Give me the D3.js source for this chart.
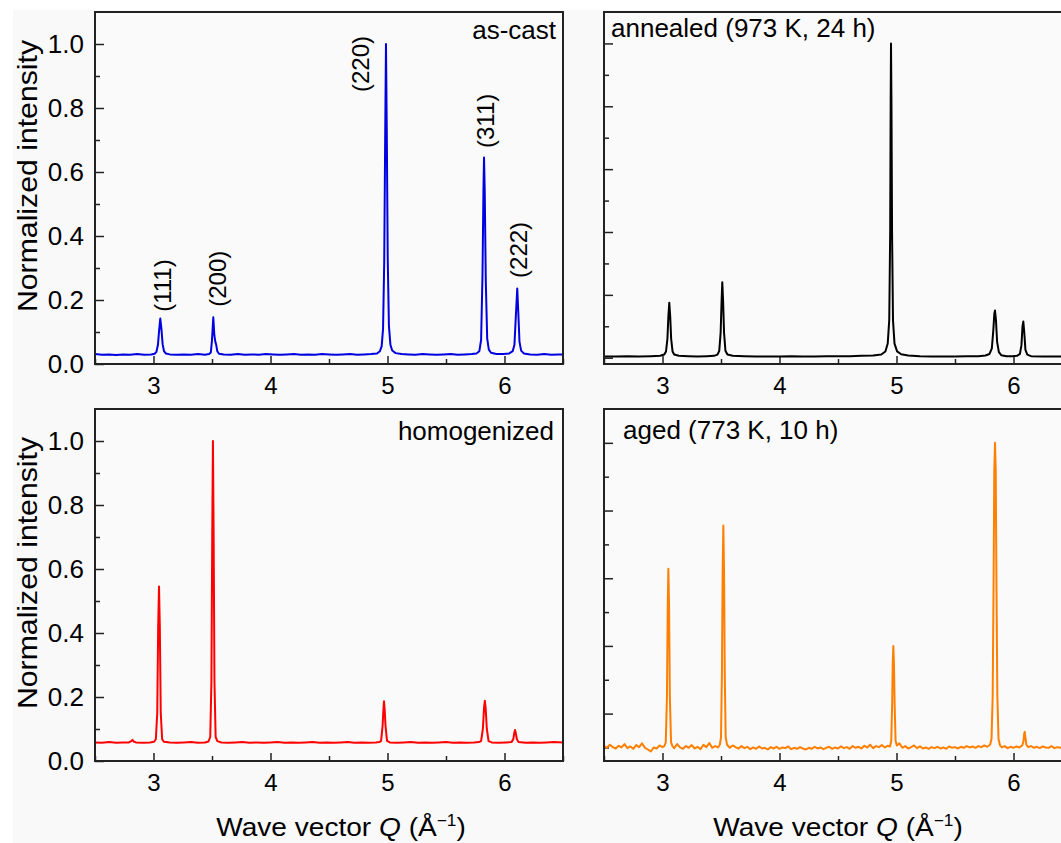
<!DOCTYPE html>
<html>
<head>
<meta charset="utf-8">
<script src="https://cdnjs.cloudflare.com/ajax/libs/d3/7.8.5/d3.min.js"></script>
<style>
body { margin: 0; background: #fff; }
text { font-family: "Liberation Sans", Arial, sans-serif; fill: #000; }
</style>
</head>
<body>
<svg width="1061" height="843"></svg>
<script>
// diffraction patterns, [Q, normalized intensity]
var asCast = [[2.50,0.031],[2.56,0.029],[2.62,0.030],[2.68,0.028],[2.74,0.030],[2.80,0.029],[2.86,0.031],[2.92,0.029],[2.98,0.030],
  [3.010,0.032],[3.025,0.038],[3.038,0.060],[3.048,0.105],[3.058,0.142],[3.068,0.108],[3.078,0.062],[3.090,0.040],[3.105,0.033],
  [3.14,0.030],[3.20,0.029],[3.26,0.030],[3.32,0.029],[3.38,0.031],[3.44,0.029],[3.475,0.031],
  [3.490,0.036],[3.500,0.075],[3.511,0.146],[3.520,0.090],[3.528,0.070],[3.536,0.060],[3.545,0.040],[3.56,0.032],
  [3.60,0.030],[3.66,0.029],[3.72,0.031],[3.78,0.029],[3.84,0.030],[3.90,0.029],[3.96,0.031],[4.02,0.030],[4.08,0.029],[4.14,0.030],
  [4.20,0.031],[4.26,0.029],[4.32,0.030],[4.38,0.029],[4.44,0.031],[4.50,0.030],[4.56,0.029],[4.62,0.030],[4.68,0.031],[4.74,0.029],
  [4.80,0.030],[4.86,0.031],[4.91,0.033],[4.935,0.040],[4.950,0.055],[4.962,0.110],[4.972,0.320],[4.980,0.700],[4.987,1.000],
  [4.994,0.720],[5.002,0.330],[5.012,0.120],[5.025,0.060],[5.040,0.042],[5.07,0.034],[5.12,0.031],[5.18,0.030],[5.24,0.029],
  [5.30,0.031],[5.36,0.030],[5.42,0.029],[5.48,0.030],[5.54,0.031],[5.60,0.029],[5.66,0.030],[5.72,0.031],[5.76,0.033],
  [5.785,0.040],[5.800,0.075],[5.812,0.280],[5.820,0.540],[5.825,0.645],[5.831,0.540],[5.840,0.260],[5.852,0.080],[5.866,0.045],
  [5.885,0.035],[5.93,0.031],[5.99,0.031],[6.04,0.033],[6.070,0.040],[6.085,0.060],[6.097,0.150],[6.109,0.236],[6.118,0.160],
  [6.128,0.070],[6.142,0.042],[6.165,0.033],[6.22,0.030],[6.28,0.029],[6.34,0.031],[6.40,0.029],[6.46,0.030],[6.50,0.030]];

var annealed = [[2.50,0.004],[2.60,0.004],[2.70,0.005],[2.80,0.004],[2.90,0.005],[2.98,0.006],
  [3.015,0.010],[3.030,0.020],[3.042,0.060],[3.050,0.130],[3.058,0.175],[3.066,0.130],[3.074,0.060],[3.086,0.020],[3.100,0.010],
  [3.14,0.006],[3.22,0.005],[3.30,0.004],[3.38,0.005],[3.44,0.006],
  [3.470,0.010],[3.485,0.022],[3.497,0.080],[3.505,0.180],[3.511,0.240],[3.518,0.180],[3.526,0.080],[3.538,0.022],[3.555,0.010],
  [3.60,0.006],[3.70,0.005],[3.80,0.004],[3.90,0.004],[4.00,0.004],[4.10,0.005],[4.20,0.004],[4.30,0.004],[4.40,0.005],
  [4.50,0.005],[4.60,0.005],[4.70,0.006],[4.80,0.007],[4.87,0.010],
  [4.905,0.020],[4.925,0.045],[4.938,0.120],[4.946,0.400],[4.950,0.800],[4.953,1.000],[4.957,0.800],[4.962,0.400],[4.970,0.120],
  [4.983,0.045],[5.005,0.020],[5.04,0.011],[5.10,0.007],[5.20,0.005],[5.30,0.004],[5.40,0.004],[5.50,0.004],[5.60,0.005],
  [5.70,0.005],[5.76,0.007],[5.795,0.012],[5.815,0.030],[5.828,0.090],[5.836,0.140],[5.842,0.150],[5.850,0.120],[5.860,0.050],
  [5.875,0.018],[5.895,0.008],[5.94,0.005],[5.99,0.005],[6.03,0.006],
  [6.055,0.012],[6.068,0.040],[6.077,0.100],[6.084,0.115],[6.092,0.080],[6.102,0.025],[6.118,0.010],
  [6.15,0.005],[6.25,0.004],[6.35,0.004],[6.45,0.004],[6.50,0.004]];

var homogenized = [[2.50,0.058],[2.56,0.057],[2.62,0.059],[2.68,0.057],[2.74,0.058],[2.79,0.058],[2.81,0.062],[2.82,0.066],
  [2.83,0.061],[2.85,0.058],[2.91,0.057],[2.97,0.058],
  [3.005,0.060],[3.020,0.068],[3.032,0.150],[3.040,0.420],[3.047,0.545],[3.054,0.420],[3.062,0.150],[3.074,0.068],[3.090,0.060],
  [3.14,0.058],[3.20,0.057],[3.26,0.058],[3.32,0.059],[3.38,0.057],[3.44,0.058],
  [3.470,0.061],[3.485,0.075],[3.495,0.250],[3.502,0.700],[3.508,1.000],[3.514,0.700],[3.521,0.250],[3.531,0.075],[3.546,0.062],
  [3.58,0.058],[3.64,0.057],[3.70,0.058],[3.76,0.059],[3.82,0.057],[3.88,0.058],[3.94,0.057],[4.00,0.058],[4.06,0.059],
  [4.12,0.057],[4.18,0.058],[4.24,0.057],[4.30,0.058],[4.36,0.059],[4.42,0.057],[4.48,0.058],[4.54,0.057],[4.60,0.058],
  [4.66,0.059],[4.72,0.057],[4.78,0.058],[4.84,0.057],[4.90,0.058],[4.93,0.059],
  [4.945,0.063],[4.958,0.110],[4.965,0.160],[4.970,0.187],[4.976,0.160],[4.983,0.110],[4.996,0.063],
  [5.02,0.058],[5.08,0.057],[5.14,0.058],[5.20,0.059],[5.26,0.057],[5.32,0.058],[5.38,0.057],[5.44,0.058],[5.50,0.059],
  [5.56,0.057],[5.62,0.058],[5.68,0.057],[5.74,0.058],[5.78,0.059],
  [5.800,0.062],[5.815,0.100],[5.825,0.165],[5.832,0.188],[5.839,0.165],[5.849,0.100],[5.864,0.062],
  [5.89,0.058],[5.95,0.057],[6.01,0.058],[6.06,0.059],
  [6.075,0.068],[6.085,0.090],[6.090,0.097],[6.096,0.088],[6.106,0.068],[6.12,0.059],
  [6.18,0.057],[6.24,0.058],[6.30,0.057],[6.36,0.058],[6.42,0.059],[6.50,0.058]];

var aged = [[2.500,0.104],[2.525,0.099],[2.550,0.108],[2.575,0.101],[2.600,0.097],[2.625,0.105],[2.650,0.100],[2.675,0.110],
  [2.700,0.098],[2.725,0.103],[2.750,0.096],[2.775,0.107],[2.800,0.101],[2.825,0.112],[2.850,0.099],[2.875,0.094],[2.900,0.088],
  [2.925,0.100],[2.950,0.097],[2.975,0.106],[3.000,0.101],[3.015,0.104],
  [3.028,0.115],[3.038,0.250],[3.045,0.520],[3.050,0.628],[3.056,0.520],[3.063,0.250],[3.073,0.115],[3.085,0.104],
  [3.100,0.098],[3.125,0.110],[3.150,0.100],[3.175,0.096],[3.200,0.104],[3.225,0.099],[3.250,0.107],[3.275,0.097],[3.300,0.102],
  [3.325,0.095],[3.350,0.108],[3.375,0.101],[3.400,0.113],[3.425,0.099],[3.450,0.104],[3.475,0.100],[3.490,0.108],
  [3.500,0.130],[3.508,0.320],[3.514,0.620],[3.520,0.756],[3.526,0.620],[3.532,0.320],[3.540,0.130],[3.552,0.108],
  [3.575,0.099],[3.600,0.106],[3.625,0.101],[3.650,0.097],[3.675,0.104],[3.700,0.098],[3.725,0.102],[3.750,0.095],[3.775,0.100],
  [3.800,0.096],[3.825,0.103],[3.850,0.097],[3.875,0.099],[3.900,0.094],[3.925,0.101],[3.950,0.097],[3.975,0.102],[4.000,0.096],
  [4.025,0.100],[4.050,0.098],[4.075,0.103],[4.100,0.095],[4.125,0.099],[4.150,0.096],[4.175,0.101],[4.200,0.097],[4.225,0.094],
  [4.250,0.099],[4.275,0.096],[4.300,0.102],[4.325,0.097],[4.350,0.100],[4.375,0.095],[4.400,0.099],[4.425,0.102],[4.450,0.096],
  [4.475,0.100],[4.500,0.097],[4.525,0.103],[4.550,0.098],[4.575,0.101],[4.600,0.096],[4.625,0.104],[4.650,0.099],[4.675,0.102],
  [4.700,0.097],[4.725,0.105],[4.750,0.100],[4.775,0.108],[4.800,0.098],[4.825,0.104],[4.850,0.101],[4.875,0.107],[4.900,0.100],
  [4.925,0.105],[4.945,0.103],
  [4.955,0.120],[4.963,0.230],[4.968,0.350],[4.973,0.400],[4.978,0.350],[4.984,0.230],[4.992,0.120],[5.003,0.106],
  [5.025,0.112],[5.050,0.099],[5.075,0.104],[5.100,0.097],[5.125,0.101],[5.150,0.106],[5.175,0.098],[5.200,0.103],[5.225,0.097],
  [5.250,0.100],[5.275,0.096],[5.300,0.101],[5.325,0.098],[5.350,0.102],[5.375,0.097],[5.400,0.100],[5.425,0.096],[5.450,0.103],
  [5.475,0.099],[5.500,0.101],[5.525,0.097],[5.550,0.102],[5.575,0.099],[5.600,0.104],[5.625,0.100],[5.650,0.103],[5.675,0.099],
  [5.700,0.104],[5.725,0.101],[5.750,0.106],[5.775,0.102],[5.800,0.108],
  [5.812,0.125],[5.822,0.250],[5.830,0.600],[5.836,0.920],[5.842,1.000],[5.848,0.920],[5.854,0.600],[5.862,0.250],[5.872,0.125],
  [5.885,0.106],[5.900,0.100],[5.925,0.104],[5.950,0.098],[5.975,0.102],[6.000,0.099],[6.025,0.103],[6.050,0.100],[6.075,0.106],
  [6.085,0.118],[6.091,0.140],[6.096,0.146],[6.102,0.130],[6.110,0.108],
  [6.125,0.101],[6.150,0.104],[6.175,0.099],[6.200,0.102],[6.225,0.098],[6.250,0.103],[6.275,0.100],[6.300,0.099],[6.325,0.104],
  [6.350,0.098],[6.375,0.101],[6.400,0.099],[6.425,0.102],[6.450,0.100],[6.475,0.103],[6.500,0.100]];

// reflection labels in the as-cast panel
var hklLabels = ["(111)", "(200)", "(220)", "(311)", "(222)"];
var hklQ = [3.078, 3.55, 4.773, 5.842, 6.124];
var hklI = [0.163, 0.179, 0.85, 0.675, 0.269];

var xTicks = [3, 4, 5, 6];
var xMinor = [2.5, 3.5, 4.5, 5.5, 6.5];
var yTicks = [0, 0.2, 0.4, 0.6, 0.8, 1.0];
var yMinor = [0.1, 0.3, 0.5, 0.7, 0.9];

var svg = d3.select("svg");
svg.append("rect").attr("x", 13).attr("y", 10).attr("width", 1048).attr("height", 833).attr("fill", "#f9f9f9");

var pw = 468, ph = 352;

var panels = [
  {id: "p0", data: asCast, color: "#0000e0", x: 95, y: 12, yMin: 0, yLabels: true,
   name: "as-cast", nx: 461, ny: 27, anchor: "end"},
  {id: "p1", data: annealed, color: "#000000", x: 604, y: 12, yMin: -0.02, yLabels: false,
   name: "annealed (973 K, 24 h)", nx: 7, ny: 25, anchor: "start"},
  {id: "p2", data: homogenized, color: "#ff0000", x: 95, y: 409, yMin: 0, yLabels: true,
   name: "homogenized", nx: 459, ny: 31, anchor: "end"},
  {id: "p3", data: aged, color: "#ff7f00", x: 604, y: 409, yMin: 0.06, yLabels: false,
   name: "aged (773 K, 10 h)", nx: 19, ny: 30, anchor: "start"}
];

panels.forEach(function(p) {
  var xScale = d3.scaleLinear().domain([2.5, 6.5]).range([p.x, p.x + pw]);
  var yScale = d3.scaleLinear().domain([p.yMin, 1.1]).range([p.y + ph, p.y]);
  var inDomain = function(v) { return v >= p.yMin - 1e-9 && v <= 1.1; };

  var g = svg.append("g");

  g.append("clipPath").attr("id", "clip-" + p.id)
    .append("rect").attr("x", p.x).attr("y", p.y).attr("width", pw).attr("height", ph);

  g.append("rect")
    .attr("x", p.x).attr("y", p.y).attr("width", pw).attr("height", ph)
    .attr("fill", "#fafafa");

  // major & minor ticks, pointing inwards
  var yAx = g.append("g").attr("transform", "translate(" + p.x + ",0)")
    .call(d3.axisLeft(yScale).tickValues(yTicks.filter(inDomain)).tickSizeInner(-9).tickSizeOuter(0).tickPadding(11)
      .tickFormat(function(d) { return p.yLabels ? d3.format(".1f")(d) : ""; }));
  var yAxMin = g.append("g").attr("transform", "translate(" + p.x + ",0)")
    .call(d3.axisLeft(yScale).tickValues(yMinor.filter(inDomain)).tickSizeInner(-5).tickSizeOuter(0).tickFormat(""));

  var xAx = g.append("g").attr("transform", "translate(0," + (p.y + ph) + ")")
    .call(d3.axisBottom(xScale).tickValues(xTicks).tickSizeInner(-8).tickSizeOuter(0).tickPadding(13)
      .tickFormat(function(d) { return d; }));
  var xAxMin = g.append("g").attr("transform", "translate(0," + (p.y + ph) + ")")
    .call(d3.axisBottom(xScale).tickValues(xMinor).tickSizeInner(-5).tickSizeOuter(0).tickFormat(""));

  [yAx, yAxMin, xAx, xAxMin].forEach(function(a) {
    a.select(".domain").remove();
    a.selectAll("line").attr("stroke", "#222").attr("stroke-width", 1.5);
  });
  yAx.selectAll("text").style("font-size", "26px").attr("fill", "#000");
  xAx.selectAll("text").style("font-size", "24px").attr("fill", "#000");

  var line = d3.line()
    .x(function(d) { return xScale(d[0]); })
    .y(function(d) { return yScale(d[1]); });

  g.append("path")
    .datum(p.data)
    .attr("clip-path", "url(#clip-" + p.id + ")")
    .attr("fill", "none")
    .attr("stroke", p.color)
    .attr("stroke-width", 2)
    .attr("stroke-linejoin", "round")
    .attr("d", line);

  g.append("rect")
    .attr("x", p.x).attr("y", p.y).attr("width", pw).attr("height", ph)
    .attr("fill", "none").attr("stroke", "#222").attr("stroke-width", 2);

  g.append("text")
    .attr("x", p.x + p.nx).attr("y", p.y + p.ny)
    .attr("text-anchor", p.anchor)
    .style("font-size", "26px")
    .text(p.name);

  if (p.id === "p0") {
    g.selectAll(".hkl")
      .data(hklLabels)
      .enter()
      .append("text")
      .attr("class", "hkl")
      .attr("transform", function(d, i) {
        return "translate(" + xScale(hklQ[i]) + "," + yScale(hklI[i]) + ") rotate(-90)";
      })
      .attr("dy", "0.35em")
      .style("font-size", "24px")
      .text(function(d) { return d; });
  }
});

// axis titles
[176, 573].forEach(function(cy) {
  svg.append("text")
    .attr("transform", "translate(37," + cy + ") rotate(-90) scale(1.08,1)")
    .attr("text-anchor", "middle")
    .style("font-size", "28px")
    .text("Normalized intensity");
});

[341, 838].forEach(function(cx) {
  var t = svg.append("text")
    .attr("transform", "translate(" + cx + ",836) scale(1.08,1)")
    .attr("text-anchor", "middle")
    .style("font-size", "26px");
  t.append("tspan").text("Wave vector ");
  t.append("tspan").style("font-style", "italic").text("Q");
  t.append("tspan").text(" (Å");
  t.append("tspan").attr("dy", -10).style("font-size", "16px").text("−1");
  t.append("tspan").attr("dy", 10).text(")");
});
</script>
</body>
</html>
